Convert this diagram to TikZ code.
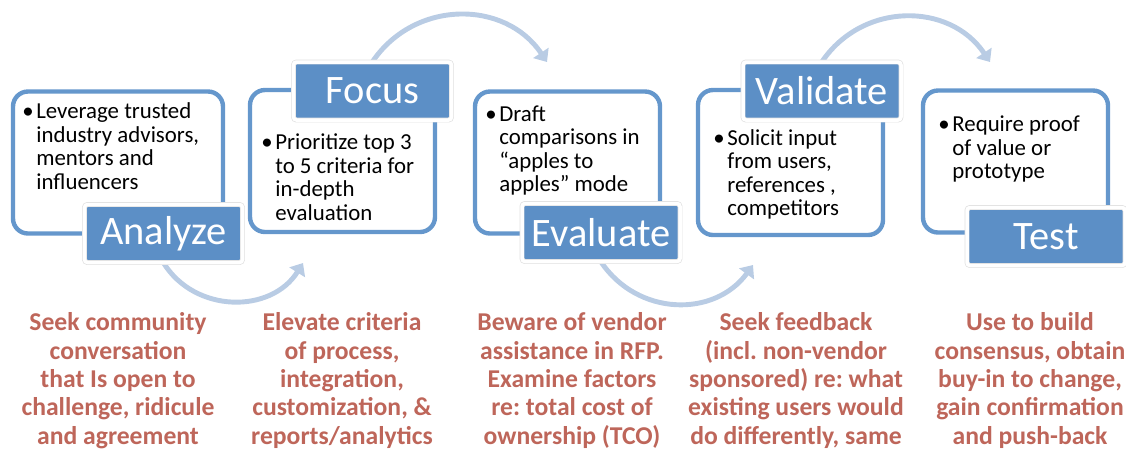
\documentclass[tikz,border=0pt]{standalone}
\usepackage{fontspec}
\setmainfont{Carlito}
\usepackage{tikz}
\usetikzlibrary{arrows.meta,positioning,backgrounds}
\definecolor{stageline}{RGB}{101,151,204}
\definecolor{stagefill}{RGB}{92,143,198}
\definecolor{flowblue}{RGB}{185,204,228}
\definecolor{tipred}{RGB}{190,102,90}
\frenchspacing
% bullet with the lines hanging after it
\newcommand{\bitem}[1]{\textbullet\hspace{1.5pt}\begin{tabular}[t]{@{}l@{}}#1\end{tabular}}
\tikzset{
  stage/.style={draw=stageline, line width=2.5pt, rounded corners=3mm, fill=white,
                minimum width=3.7cm, minimum height=2.84cm},
  stagelbl/.style={draw=black!12, double=white, double distance=2pt, fill=stagefill,
                   rounded corners=0.6mm, minimum width=3.16cm, minimum height=1.16cm,
                   text=white, font=\fontsize{23}{27}\selectfont},
  stagetxt/.style={anchor=north west, inner sep=0pt, font=\fontsize{13}{13.4}\selectfont},
  tip/.style={anchor=north, inner sep=0pt, align=center, text=tipred,
              font=\fontsize{14.6}{16.1}\selectfont\bfseries},
  flow/.style={draw=flowblue, line width=2.8pt, looseness=1.1,
               -{Triangle[length=2.2mm, width=3.6mm]}},
}

\begin{document}
\begin{tikzpicture}
    \useasboundingbox (0,0) rectangle (22.52,-9.02);
    % stage boxes
    \node[stage, minimum width=4.2cm] (analyze) at (2.36,-3.25) {};
    \node[stage] (focus) at (6.85,-3.22) {};
    \node[stage] (evaluate) at (11.35,-3.25) {};
    \node[stage, minimum height=2.9cm] (validate) at (15.81,-3.25) {};
    \node[stage] (test) at (20.31,-3.23) {};
    \node[stagetxt] (analyzetxt) at (0.44,-2.04) {\bitem{Leverage trusted\\industry advisors,\\mentors and\\influencers}};
    \node[stagetxt] (focustxt) at (5.22,-2.66) {\bitem{Prioritize top 3\\to 5 criteria for\\in-depth\\evaluation}};
    \node[stagetxt] (evaluatetxt) at (9.70,-2.09) {\bitem{Draft\\comparisons in\\“apples to\\apples” mode}};
    \node[stagetxt] (validatetxt) at (14.26,-2.57) {\bitem{Solicit input\\from users,\\references ,\\competitors}};
    \node[stagetxt] (testtxt) at (18.76,-2.30) {\bitem{Require proof\\of value or\\prototype}};
    % stage names
    \node[stagelbl] (analyzelbl) at (3.27,-4.67) {Analyze};
    \node[stagelbl] (focuslbl) at (7.45,-1.82) {Focus};
    \node[stagelbl] (evaluatelbl) at (12.02,-4.65) {Evaluate};
    \node[stagelbl] (validatelbl) at (16.44,-1.82) {Validate};
    \node[stagelbl] (testlbl) at (20.92,-4.73) {Test};
    % notes under each stage
    \node[tip] (analyzetip) at (2.36,-6.25) {Seek community\\conversation\\that Is open to\\challenge, ridicule\\and agreement};
    \node[tip] (focustip) at (6.84,-6.25) {Elevate criteria\\of process,\\integration,\\customization, \&\\reports/analytics};
    \node[tip] (evaluatetip) at (11.44,-6.25) {Beware of vendor\\assistance in RFP.\\Examine factors\\re: total cost of\\ownership (TCO)};
    \node[tip] (validatetip) at (15.92,-6.25) {Seek feedback\\(incl. non-vendor\\sponsored) re: what\\existing users would\\do differently, same};
    \node[tip] (testtip) at (20.6,-6.25) {Use to build\\consensus, obtain\\buy-in to change,\\gain confirmation\\and push-back};
    % arcs from stage to stage
    \coordinate (toFocus) at (6.06,-5.26);
    \coordinate (toEvaluate) at (10.94,-1.24);
    \coordinate (toValidate) at (15.06,-5.30);
    \coordinate (toTest) at (19.80,-1.24);
    \begin{scope}[on background layer]
      \draw[flow] (analyzelbl.south) to[bend right=58] (toFocus);
      \draw[flow] (focuslbl.north) to[bend left=56] (toEvaluate);
      \draw[flow] (evaluatelbl.south) to[bend right=55] (toValidate);
      \draw[flow] (validatelbl.north) to[bend left=56] (toTest);
    \end{scope}
  \end{tikzpicture}
\end{document}
